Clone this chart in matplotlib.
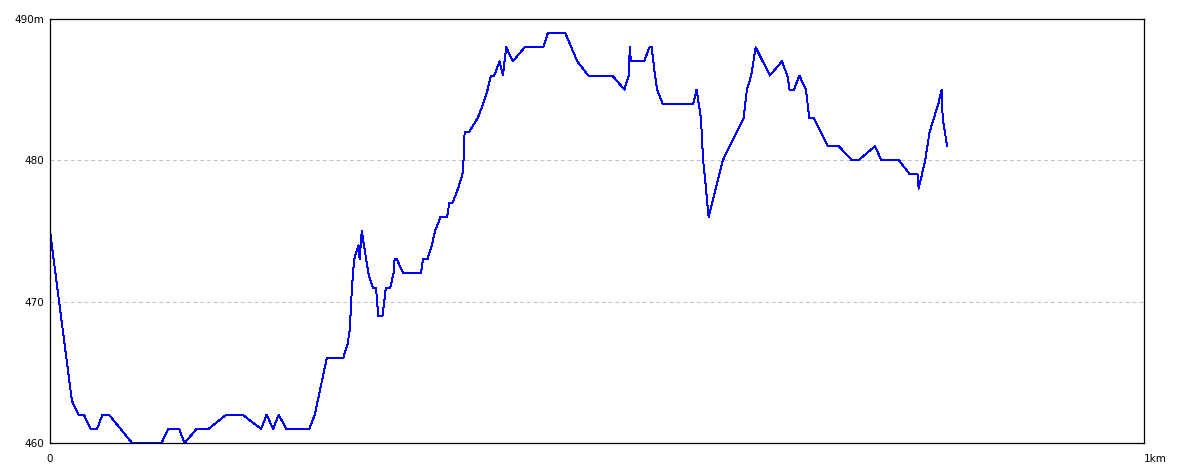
import matplotlib
matplotlib.use("Agg")
import matplotlib.pyplot as plt
import numpy as np

# distance along route (m) and elevation (m)
dist_m = [0, 20, 26, 31, 37, 43, 48, 54, 75, 102, 108, 118, 123, 134, 145,
          161, 176, 193, 198, 204, 209, 216, 237, 242, 253, 268, 272, 274,
          276, 278, 282, 283, 285, 291, 295, 298, 300, 304, 307, 311, 314,
          315, 317, 323, 339, 341, 345, 349, 352, 357, 363, 365, 368, 373,
          377, 378, 379, 383, 391, 396, 400, 403, 406, 411, 414, 417, 423, 434, 451,
          455, 471, 482, 492, 514, 525, 529, 530, 531, 543, 548, 550, 553,
          555, 560, 588, 591, 595, 597, 599, 602, 615, 634, 637, 641, 645,
          658, 669, 674, 676, 680, 685, 691, 694, 698, 711, 721, 733, 739,
          754, 760, 776, 786, 793, 794, 800, 804, 812, 815, 816, 820]
elev_m = [475, 463, 462, 462, 461, 461, 462, 462, 460, 460, 461, 461, 460, 461, 461,
          462, 462, 461, 462, 461, 462, 461, 461, 462, 466, 466, 467, 468,
          471, 473, 474, 473, 475, 472, 471, 471, 469, 469, 471, 471, 472,
          473, 473, 472, 472, 473, 473, 474, 475, 476, 476, 477, 477, 478,
          479, 480, 482, 482, 483, 484, 485, 486, 486, 487, 486, 488, 487, 488, 488,
          489, 489, 487, 486, 486, 485, 486, 488, 487, 487, 488, 488, 486,
          485, 484, 484, 485, 483, 480, 478.5, 476, 480, 483, 485, 486, 488,
          486, 487, 486, 485, 485, 486, 485, 483, 483, 481, 481, 480, 480,
          481, 480, 480, 479, 479, 478, 480, 482, 484, 485, 483, 481]

y_ticks = [460, 470, 480, 490]
y_labels = ["460", "470", "480", "490m"]

fig = plt.figure(figsize=(11.84, 4.73), dpi=100)
ax = fig.add_axes([50/1184, 30/473, 1094/1184, 424/473])

x_km = np.array(dist_m) / 1000.0
ax.plot(x_km, elev_m, color="#0000ff", lw=0.7, antialiased=False)

ax.set_xlim(0, 1)
ax.set_ylim(460, 490)

for y in [470, 480]:
    ax.axhline(y, color="#c0c0c0", lw=0.7, ls=(0, (4, 3)), zorder=0)

ax.set_yticks(y_ticks)
ax.set_yticklabels(y_labels, fontsize=7.5)
ax.set_xticks([])
ax.tick_params(axis="y", length=0, pad=4)
for s in ax.spines.values():
    s.set_color("black")
    s.set_linewidth(0.9)

ax.text(0, -0.025, "0", transform=ax.transAxes, ha="center", va="top", fontsize=7.5)
ax.text(1.0, -0.025, "1km", transform=ax.transAxes, ha="left", va="top", fontsize=7.5)

fig.savefig("out.png", dpi=100)
